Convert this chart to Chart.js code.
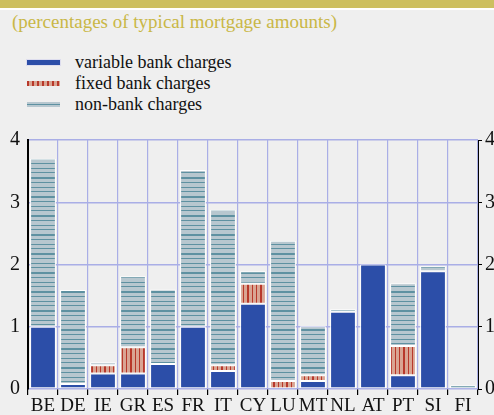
<!DOCTYPE html>
<html>
<head>
<meta charset="utf-8">
<script src="https://cdn.jsdelivr.net/npm/chart.js@4.4.0/dist/chart.umd.min.js"></script>
<style>
  body { margin: 0; background: #efefef; width: 494px; height: 415px; overflow: hidden; position: relative; font-family: "Liberation Serif", serif; }
  #band { position: absolute; left: 0; top: 0; width: 494px; height: 8px; background: #cdbf5f; border-bottom: 2px solid #fff; }
  #title { position: absolute; left: 12px; top: 11px; font-size: 19px; color: #c9b746; }
  .leg { position: absolute; left: 27px; font-size: 18px; color: #111; }
  .sw { position: absolute; left: 0; top: 8px; width: 33px; height: 5px; }
  .leg span.t { position: absolute; left: 48px; top: 0; white-space: nowrap; }
  #wrap { position: absolute; left: 0; top: 120px; }
</style>
</head>
<body>
<div id="band"></div>
<div id="title">(percentages of typical mortgage amounts)</div>
<div class="leg" style="top:52px"><div class="sw" style="background:#2c4ea8;box-shadow:0 0 0 1px #dde"></div><span class="t">variable bank charges</span></div>
<div class="leg" style="top:73px"><div class="sw" style="background:repeating-linear-gradient(90deg,#b8382a 0 2px,#d9a593 2px 5px)"></div><span class="t">fixed bank charges</span></div>
<div class="leg" style="top:94px"><div class="sw" style="background:linear-gradient(#b7c7cf 0 2px,#5e91a1 2px 3px,#b7c7cf 3px 5px)"></div><span class="t">non-bank charges</span></div>
<div id="wrap"><canvas id="c" width="494" height="295"></canvas></div>
<script>
var countries = ["BE","DE","IE","GR","ES","FR","IT","CY","LU","MT","NL","AT","PT","SI","FI"];
var variableCharges = [1.0, 0.08, 0.25, 0.25, 0.40, 1.0, 0.29, 1.37, null, 0.13, 1.24, 2.0, 0.22, 1.89, null];
var fixedCharges = [null, null, 0.13, 0.42, null, null, 0.09, 0.32, 0.13, 0.09, null, null, 0.47, null, null];
var nonBankCharges = [2.70, 1.51, 0.05, 1.14, 1.20, 2.52, 2.50, 0.20, 2.25, 0.79, 0.04, null, 1.01, 0.08, 0.06];
var yTicks = [0, 1, 2, 3, 4];

var serif = "'Liberation Serif', 'Times New Roman', serif";
var purple = "#a9aee6";

// hatch patterns
function makePattern(w, h, draw) {
	var cv = document.createElement("canvas");
	cv.width = w; cv.height = h;
	var g = cv.getContext("2d");
	draw(g);
	return document.getElementById("c").getContext("2d").createPattern(cv, "repeat");
}
var horizHatch = makePattern(8, 19, function (g) {
	g.fillStyle = "#b7c7cf"; g.fillRect(0, 0, 8, 19);
	g.fillStyle = "#5e91a1";
	g.fillRect(0, 0, 8, 2);
	g.fillRect(0, 5, 8, 1);
	g.fillRect(0, 10, 8, 1);
	g.fillRect(0, 14, 8, 1);
});
var vertHatch = makePattern(13, 8, function (g) {
	g.fillStyle = "#d9a593"; g.fillRect(0, 0, 13, 8);
	g.fillStyle = "#b8382a";
	g.fillRect(0, 0, 2, 8);
	g.fillRect(5, 0, 1, 8);
	g.fillRect(9, 0, 1, 8);
});

var ctx = document.getElementById("c").getContext("2d");
var myChart = new Chart(ctx, {
	type: "bar",
	data: {
		labels: countries,
		datasets: [
			{ label: "variable bank charges", data: variableCharges, backgroundColor: "#2c4ea8" },
			{ label: "fixed bank charges", data: fixedCharges, backgroundColor: vertHatch },
			{ label: "non-bank charges", data: nonBankCharges, backgroundColor: horizHatch }
		]
	},
	options: {
		responsive: false,
		animation: false,
		devicePixelRatio: 1,
		layout: { padding: { top: 10, left: 0, right: 0, bottom: 0 } },
		datasets: {
			bar: {
				categoryPercentage: 1,
				barPercentage: 0.86,
				borderColor: "#ffffff",
				borderWidth: 1,
				borderSkipped: false
			}
		},
		plugins: { legend: { display: false }, tooltip: { enabled: false } },
		scales: {
			x: {
				stacked: true,
				grid: { color: purple, offset: true, tickLength: 6, tickColor: "#000", lineWidth: 1.2 },
				border: { display: false },
				ticks: { font: { family: serif, size: 19 }, color: "#111", padding: 0, maxRotation: 0, autoSkip: false },
				afterFit: function (s) { s.height = 26; }
			},
			y: {
				stacked: true,
				min: 0, max: 4,
				afterBuildTicks: function (s) { s.ticks = yTicks.map(function (v) { return { value: v }; }); },
				grid: { color: purple, drawTicks: false, lineWidth: 1.5 },
				border: { color: "#000", width: 2 },
				ticks: { font: { family: serif, size: 20 }, color: "#111", padding: 8 },
				afterFit: function (s) { s.width = 28; }
			},
			y2: {
				position: "right",
				min: 0, max: 4,
				afterBuildTicks: function (s) { s.ticks = yTicks.map(function (v) { return { value: v }; }); },
				grid: { drawOnChartArea: false, tickLength: 4, tickColor: "#000" },
				border: { color: "#000", width: 1 },
				ticks: { font: { family: serif, size: 20 }, color: "#111", padding: 3 },
				afterFit: function (s) { s.width = 16; }
			}
		}
	}
});
</script>
</body>
</html>
